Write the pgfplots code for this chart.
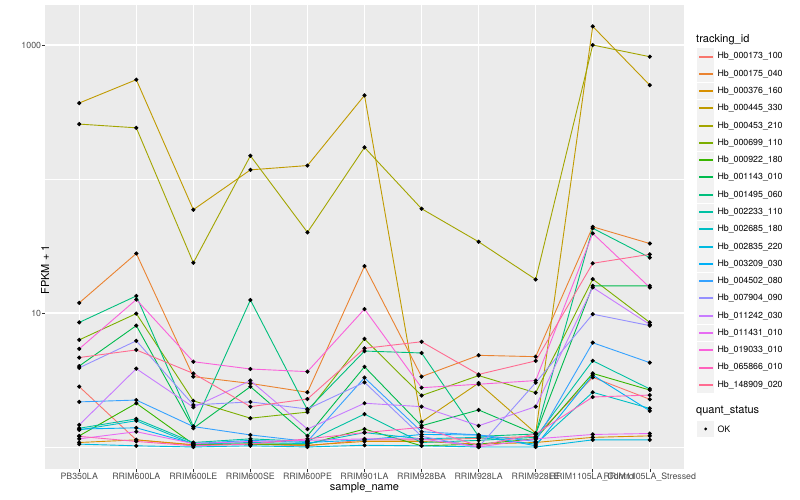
\documentclass[border=0pt]{standalone}
\usepackage{fontspec}
\setmainfont{TeX Gyre Heros}
\usepackage{pgfplots}
\pgfplotsset{compat=1.18}
\usepackage{pgfplotstable}

% ggplot hue palette, 20 levels
\definecolor{c1}{HTML}{F8766D}
\definecolor{c2}{HTML}{EA8331}
\definecolor{c3}{HTML}{D89000}
\definecolor{c4}{HTML}{C09B00}
\definecolor{c5}{HTML}{A3A500}
\definecolor{c6}{HTML}{7CAE00}
\definecolor{c7}{HTML}{39B600}
\definecolor{c8}{HTML}{00BB4E}
\definecolor{c9}{HTML}{00BF7D}
\definecolor{c10}{HTML}{00C1A3}
\definecolor{c11}{HTML}{00BFC4}
\definecolor{c12}{HTML}{00BAE0}
\definecolor{c13}{HTML}{00B0F6}
\definecolor{c14}{HTML}{35A2FF}
\definecolor{c15}{HTML}{9590FF}
\definecolor{c16}{HTML}{C77CFF}
\definecolor{c17}{HTML}{E76BF3}
\definecolor{c18}{HTML}{FA62DB}
\definecolor{c19}{HTML}{FF62BC}
\definecolor{c20}{HTML}{FF6C91}
\definecolor{panelgray}{HTML}{EBEBEB}
\definecolor{keygray}{HTML}{F2F2F2}
\definecolor{tickgray}{HTML}{4D4D4D}
\definecolor{tickmark}{HTML}{333333}

% FPKM + 1, one column per tracking_id, one row per sample
\pgfplotstableread{
x  s1   s2   s3   s4   s5   s6   s7   s8    s9   s10  s11  s12  s13  s14  s15  s16  s17  s18  s19  s20
0  2.82 11.9 1.08 369  257  6.3  1.21 4.02  8.5  1.38 1.34 1.05 1.36 2.17 3.9  1.46 1.15 5.4  1.20 4.65
1  1.13 27.8 1.13 551  241  9.9  2.12 8.05  13.4 1.62 1.57 1.02 1.39 2.24 6.2  3.84 1.30 12.6 1.10 5.3
2  1.03 3.35 1.04 59   23.7 2.21 1.05 1.38  1.42 1.08 1.05 1.00 1.06 1.42 2.06 1.98 1.06 4.33 1.02 3.54
3  1.05 2.98 1.05 117  149  1.64 1.05 2.82  12.5 1.15 1.08 1.02 1.12 1.23 2.17 3.13 1.10 3.82 1.05 2.0
4  1.02 2.56 1.03 126  40   1.82 1.05 1.21  1.89 1.10 1.06 1.00 1.08 1.10 1.92 1.36 1.12 3.65 1.15 2.28
5  1.13 22.4 1.10 421  172  6.4  1.36 3.97  5.2  1.76 1.28 1.03 1.13 3.29 3.04 2.12 1.15 10.7 1.28 5.45
6  1.13 3.35 1.10 1.54 60   2.42 1.02 1.44  5.03 1.08 1.15 1.02 1.24 1.30 1.20 2.0  1.15 2.77 1.40 6.1
7  1.16 4.83 1.05 3.0  34   3.41 1.05 1.89  1.2  1.12 1.18 1.00 1.23 1.23 1.00 1.44 1.00 2.94 1.02 3.48
8  1.20 4.72 1.08 1.27 17.8 2.54 1.15 1.25  1.25 1.18 1.05 1.00 1.02 1.10 3.02 2.0  1.15 3.13 1.25 4.39
9  3.31 44   1.18 1377 1000 17.9 3.54 15.95 42.9 4.4  2.56 1.13 3.44 6.0  9.8  15.5 1.24 39.3 2.36 23.5
10 2.27 33   1.21 502  818  8.5  2.66 15.95 25.9 2.71 1.94 1.13 1.86 4.26 8.05 8.2  1.26 15.5 2.44 27.4
}\fpkm

\begin{document}
\begin{tikzpicture}
\begin{axis}[
    at={(45bp,31bp)}, anchor=south west,
    scale only axis, width=639bp, height=464bp,
    set layers, mark layer=axis foreground,
    ymode=log, ymin=0.685, ymax=1990,
    xmin=-0.6, xmax=10.6,
    xtick={0,...,10},
    xticklabels={PB350LA, RRIM600LA, RRIM600LE, RRIM600SE, RRIM600PE, RRIM901LA,
        RRIM928BA, RRIM928LA, RRIM928LE, RRIM1105LA\_Control, RRIM1105LA\_Stressed},
    ytick={10,1000}, yticklabels={10,1000},
    minor ytick={1,100},
    grid=both,
    major grid style={white, line width=1.07bp},
    minor grid style={white, line width=0.53bp},
    axis background/.style={fill=panelgray},
    axis line style={draw=none},
    tick pos=left, tick align=outside,
    major tick length=2.75bp, minor tick length=0pt,
    tick style={tickmark, line width=0.53bp},
    /pgf/number format/assume math mode=true,
    xticklabel style={font=\fontsize{8.8bp}{10bp}\selectfont, text=tickgray, inner sep=1bp},
    yticklabel style={font=\fontsize{8.8bp}{10bp}\selectfont, text=tickgray, inner sep=1bp},
    xlabel={sample\_name},
    xlabel style={font=\fontsize{11bp}{13bp}\selectfont, at={(axis description cs:0.5,0)}, anchor=center, yshift=-19bp},
    ylabel={FPKM + 1},
    ylabel style={font=\fontsize{11bp}{13bp}\selectfont, at={(axis description cs:0,0.5)}, anchor=center, xshift=-33bp},
    every axis plot/.append style={line width=0.9bp, mark=*, mark size=1.6bp,
        mark options={fill=black, draw=black, solid}},
]
\pgfplotsinvokeforeach{1,...,20}{
    \addplot[c#1] table[x=x, y=s#1] {\fpkm};
}
\end{axis}

% legends
\begin{scope}[x=1bp, y=1bp]
\node[anchor=west, inner sep=0pt, font=\fontsize{11bp}{13bp}\selectfont] at (696,460) {tracking\_id};
\foreach \i/\nm in {1/Hb\_000173\_100, 2/Hb\_000175\_040, 3/Hb\_000376\_160, 4/Hb\_000445\_330,
    5/Hb\_000453\_210, 6/Hb\_000699\_110, 7/Hb\_000922\_180, 8/Hb\_001143\_010,
    9/Hb\_001495\_060, 10/Hb\_002233\_110, 11/Hb\_002685\_180, 12/Hb\_002835\_220,
    13/Hb\_003209\_030, 14/Hb\_004502\_080, 15/Hb\_007904\_090, 16/Hb\_011242\_030,
    17/Hb\_011431\_010, 18/Hb\_019033\_010, 19/Hb\_065866\_010, 20/Hb\_148909\_020} {
    \pgfmathsetmacro\yy{443.5-17.28*(\i-1)}
    \pgfmathsetmacro\ly{500-round(56.5+17.28*(\i-1))}
    \fill[keygray] (697.3,\yy-8.4) rectangle (714.0,\yy+8.4);
    \fill[c\i] (698.7,\ly-1) rectangle (712.6,\ly+1);
    \node[anchor=west, inner sep=0pt, font=\fontsize{8.8bp}{10bp}\selectfont] at (717.3,\yy) {\nm};
}
\node[anchor=west, inner sep=0pt, font=\fontsize{11bp}{13bp}\selectfont] at (696,89) {quant\_status};
\fill[keygray] (697.3,71-8.4) rectangle (714.0,71+8.4);
\fill[black] (705.64,71) circle (1.6);
\node[anchor=west, inner sep=0pt, font=\fontsize{8.8bp}{10bp}\selectfont] at (717.3,71) {OK};
\pgfresetboundingbox
\path[use as bounding box] (0,0) rectangle (800,500);
\end{scope}
\end{tikzpicture}
\end{document}
